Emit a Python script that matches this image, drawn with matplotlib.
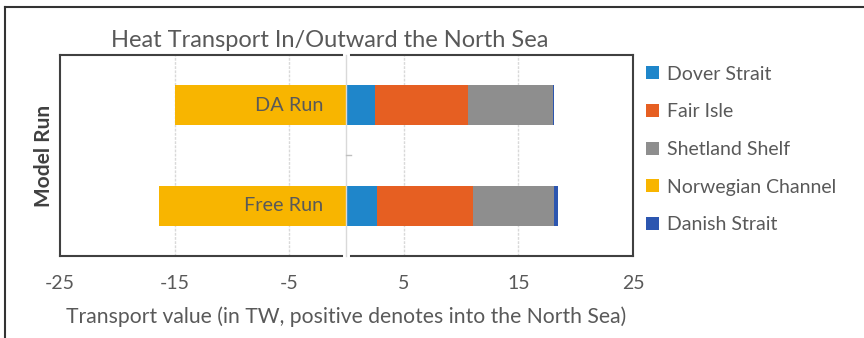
import matplotlib.pyplot as plt
from matplotlib.lines import Line2D

plt.rcParams['font.family'] = ['Lato', 'DejaVu Sans']
plt.rcParams['axes.unicode_minus'] = False

runs = ['Free Run', 'DA Run']
sections = ['Dover Strait', 'Fair Isle', 'Shetland Shelf', 'Norwegian Channel', 'Danish Strait']
colors = ['#1F86CA', '#E65F22', '#8E8E8E', '#F8B500', '#2C56B0']

# transport per section (TW), order matches runs
dover = [2.7, 2.5]
fair_isle = [8.35, 8.1]
shetland = [7.1, 7.4]
norwegian = [-16.35, -15.0]
danish = [0.3, 0.12]

values = [dover, fair_isle, shetland, norwegian, danish]
txt = '#595959'

fig = plt.figure(figsize=(8.64, 3.38), dpi=100)
ax = fig.add_axes([0.0694, 0.2426, 0.6632, 0.5947])

y = [0, 1]
pos = [0, 0]
neg = [0, 0]
for name, vals, c in zip(sections, values, colors):
    left = []
    for i, v in enumerate(vals):
        if v >= 0:
            left.append(pos[i])
            pos[i] += v
        else:
            left.append(neg[i])
            neg[i] += v
    ax.barh(y, vals, left=left, height=0.4, color=c, label=name, zorder=3)

for yi, name in zip(y, runs):
    ax.text(-2.0, yi, name, ha='right', va='center', fontsize=14.3, color=txt, zorder=4)

ax.set_xlim(-25, 25)
ax.set_ylim(-0.5, 1.5)
ax.set_xticks(range(-25, 26, 10))
ax.set_yticks([])
ax.tick_params(axis='x', length=0, labelsize=14, labelcolor=txt, pad=14)
for g in [-15, -5, 5, 15]:
    ax.axvline(g, color='#D9D9D9', lw=1, ls=(0, (2, 1)), zorder=1)
for s in ax.spines.values():
    s.set_color('#404040')
    s.set_linewidth(1.5)

# category axis at zero, breaking the frame
for y0, y1 in [(-0.015, 0.015), (0.985, 1.015)]:
    ax.add_line(Line2D([0, 0], [y0, y1], transform=ax.get_xaxis_transform(),
                       color='white', lw=5, clip_on=False, zorder=5))
ax.add_line(Line2D([0, 0], [0, 1], transform=ax.get_xaxis_transform(),
                   color='#D9D9D9', lw=1, clip_on=False, zorder=6))
ax.plot([0, 0.4], [0.5, 0.5], color='#BFBFBF', lw=1, zorder=6)

ax.set_title('Heat Transport In/Outward the North Sea', fontsize=17, color=txt, pad=6, x=0.471)
ax.set_xlabel('Transport value (in TW, positive denotes into the North Sea)',
              fontsize=15.2, color=txt, labelpad=10)
ax.set_ylabel('Model Run', fontsize=15, color='#404040', fontweight='bold', labelpad=4)

ax.legend(loc='upper left', bbox_to_anchor=(1.01, 0.985), frameon=False, fontsize=14,
          handlelength=0.65, handleheight=0.65, handletextpad=0.4, labelspacing=1.06,
          labelcolor=txt, borderaxespad=0)

# outer chart frame
fig.add_artist(Line2D([5 / 864, 1], [1 - 7 / 338, 1 - 7 / 338], color='#333333', lw=1.5))
fig.add_artist(Line2D([5 / 864, 5 / 864], [0, 1 - 7 / 338], color='#333333', lw=1.5))

fig.savefig('out.png', dpi=100)
